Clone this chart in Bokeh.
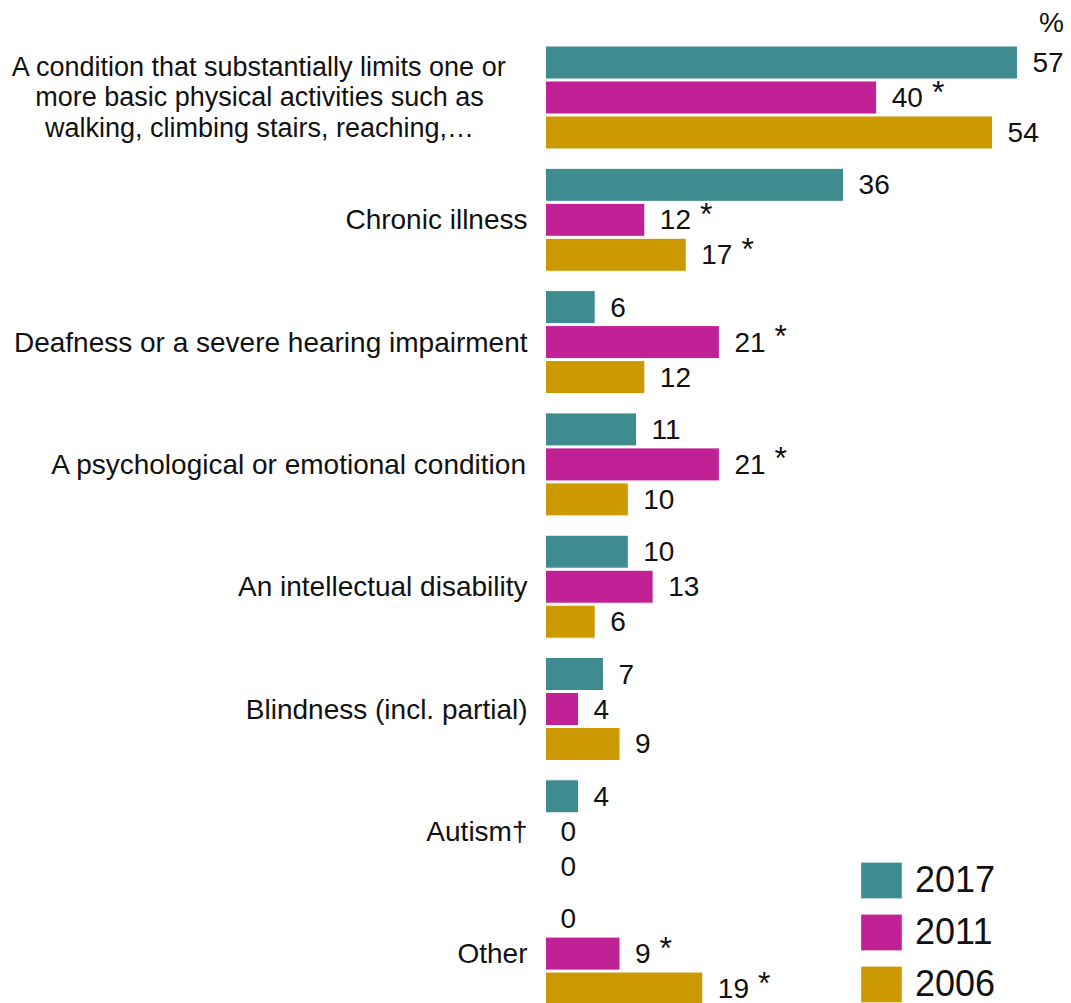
from bokeh.plotting import figure
from bokeh.models import Range1d, Legend, LegendItem, ColumnDataSource
from bokeh.core.properties import value
from bokeh.embed import file_html
from bokeh.resources import INLINE

categories = [
    "A condition that substantially limits one or\nmore basic physical activities such as\nwalking, climbing stairs, reaching,\u2026",
    "Chronic illness",
    "Deafness or a severe hearing impairment",
    "A psychological or emotional condition",
    "An intellectual disability",
    "Blindness (incl. partial)",
    "Autism\u2020",
    "Other",
]
series_names = ["2017", "2011", "2006"]
values_2017 = [57, 36, 6, 11, 10, 7, 4, 0]
values_2011 = [40, 12, 21, 21, 13, 4, 0, 9]
values_2006 = [54, 17, 12, 10, 6, 9, 0, 19]
sig_2017 = [False, False, False, False, False, False, False, False]
sig_2011 = [True, True, True, True, False, False, False, True]
sig_2006 = [False, True, False, False, False, False, False, True]
colors = ["#3E8B90", "#C02296", "#CC9900"]

FONT = "Liberation Sans"
W, H = 1071, 1003
ZERO_PX = 545
K = 8.28          # px per percent
GROUP_PX = 122.3  # px per category
FIRST_PX = 97     # center of first group

p = figure(width=W, height=H, output_backend="svg", toolbar_location=None,
           min_border=0, outline_line_color=None,
           x_range=Range1d(-ZERO_PX / K, (W - ZERO_PX) / K),
           y_range=Range1d((H - FIRST_PX) / GROUP_PX, -FIRST_PX / GROUP_PX))
p.axis.visible = False
p.grid.visible = False
p.background_fill_color = "white"
p.border_fill_color = "white"

offsets = [-0.286, 0.0, 0.286]
bar_h = 0.27
all_vals = [values_2017, values_2011, values_2006]
all_sig = [sig_2017, sig_2011, sig_2006]

items = []
for s, (name, vals, sigs, col, off) in enumerate(zip(series_names, all_vals, all_sig, colors, offsets)):
    ys = [i + off for i in range(len(categories))]
    src = ColumnDataSource(dict(y=ys, right=vals, lbl=[str(v) for v in vals]))
    r = p.hbar(y="y", left=0, right="right", height=bar_h, source=src,
               fill_color=col, line_color="white", line_width=1)
    items.append(LegendItem(label=name, renderers=[r]))
    p.text(x="right", y="y", text="lbl", source=src, x_offset=15,
           text_align="left", text_baseline="middle",
           text_font=value(FONT), text_font_size="28px", text_color="#111111")
    sx = [v for v, g in zip(vals, sigs) if g]
    sy = [y for y, g in zip(ys, sigs) if g]
    sxo = [15 + len(str(v)) * 15.6 + 9 for v, g in zip(vals, sigs) if g]
    ssrc = ColumnDataSource(dict(x=sx, y=sy, xo=sxo, t=["*"] * len(sx)))
    p.text(x="x", y="y", text="t", source=ssrc, x_offset="xo", y_offset=-6,
           text_align="left", text_baseline="middle",
           text_font=value(FONT), text_font_size="32px", text_color="#111111")

# category labels
first = ColumnDataSource(dict(x=[0], y=[0], t=[categories[0]]))
p.text(x="x", y="y", text="t", source=first, x_offset=-(ZERO_PX - 259),
       text_align="center", text_baseline="middle", text_line_height=1.03,
       text_font=value(FONT), text_font_size="27px", text_color="#111111")
rest = ColumnDataSource(dict(x=[0] * (len(categories) - 1),
                             y=list(range(1, len(categories))),
                             t=categories[1:]))
p.text(x="x", y="y", text="t", source=rest, x_offset=-18,
       text_align="right", text_baseline="middle",
       text_font=value(FONT), text_font_size="28px", text_color="#111111")

# percent sign
p.text(x=[(1051 - ZERO_PX) / K], y=[(22 - FIRST_PX) / GROUP_PX], text=["%"],
       text_align="center", text_baseline="middle",
       text_font=value(FONT), text_font_size="28px", text_color="#111111")

legend = Legend(items=items, location=(855, -4), orientation="vertical",
                glyph_width=52, glyph_height=46, spacing=6, padding=0, margin=0,
                label_text_font=FONT, label_text_font_size="36px",
                label_text_color="#111111", label_standoff=8,
                border_line_color=None, background_fill_alpha=0)
p.add_layout(legend)

open("out.html", "w").write(file_html(p, INLINE))
